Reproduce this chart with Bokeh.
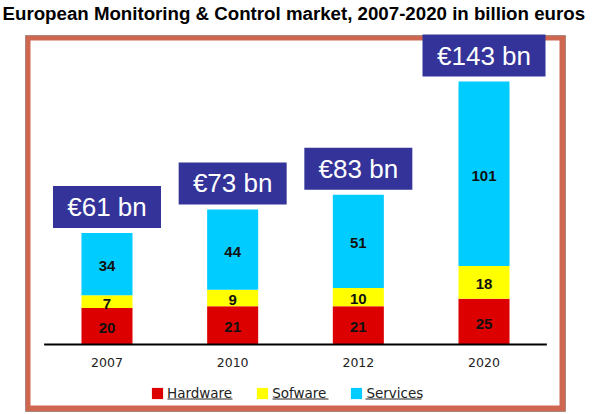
from bokeh.plotting import figure
from bokeh.models import ColumnDataSource, FactorRange, Range1d, BoxAnnotation, Label
from bokeh.core.properties import value
from bokeh.embed import file_html
from bokeh.resources import INLINE

# ---- data ----
years = ["2007", "2010", "2012", "2020"]
hardware = [20, 21, 21, 25]
software = [7, 9, 10, 18]
services = [34, 44, 51, 101]
totals = [61, 73, 83, 143]
series_names = ["Hardware", "Sofware", "Services"]
title_text = "European Monitoring & Control market, 2007-2020 in billion euros"

# ---- styles ----
colors = ["#dd0000", "#ffff00", "#00ccff"]
BOX_COLOR = "#333399"
FRAME_COLOR = "#cf6650"
PX_PER_UNIT = 1.826
PX_PER_FACTOR = 125.67
BOX_H = 42
BOX_GAP = (BOX_H / 2 + 5) / PX_PER_UNIT

W, H = 594, 414
RIGHT_BORDER = 4

bottoms_sw = [h for h in hardware]
bottoms_sv = [h + s for h, s in zip(hardware, software)]
tops = [h + s + v for h, s, v in zip(hardware, software, services)]

src = ColumnDataSource(dict(
    year=years,
    hw=hardware, sw=software, sv=services,
    hw_mid=[h / 2 for h in hardware],
    sw_mid=[b + s / 2 for b, s in zip(bottoms_sw, software)],
    sv_mid=[b + s / 2 for b, s in zip(bottoms_sv, services)],
    hw_txt=[str(v) for v in hardware],
    sw_txt=[str(v) for v in software],
    sv_txt=[str(v) for v in services],
    box_y=[t + BOX_GAP for t in tops],
    box_txt=["€%d bn" % t for t in totals],
    box_w=[15 * len("€%d bn" % t) + 18 for t in totals],
))

frame_w = W - RIGHT_BORDER
units_span = frame_w / PX_PER_FACTOR
x_range = FactorRange(factors=years, range_padding=(units_span - len(years)) / 2,
                      range_padding_units="absolute")
y0 = -70 / PX_PER_UNIT
y_range = Range1d(y0, y0 + H / PX_PER_UNIT)

p = figure(width=W, height=H, x_range=x_range, y_range=y_range,
           output_backend="svg", toolbar_location=None,
           x_axis_location=None, y_axis_location=None,
           min_border_left=0, min_border_right=RIGHT_BORDER,
           min_border_top=0, min_border_bottom=0)
p.grid.visible = False
p.outline_line_color = None
p.background_fill_color = "white"
p.border_fill_color = "white"


def canvas_box(l, r, t, b, **kw):
    return BoxAnnotation(left=l, right=r, top=t, bottom=b,
                         left_units="canvas", right_units="canvas",
                         top_units="canvas", bottom_units="canvas", **kw)


# frame decoration
p.add_layout(canvas_box(25, 565, 35, 411, fill_color=FRAME_COLOR, fill_alpha=1,
                        line_color="#222222", line_width=1, level="underlay"))
p.add_layout(canvas_box(30, 559, 40, 405, fill_color="white", fill_alpha=1,
                        line_color=None, level="underlay"))

# stacked bars
p.vbar_stack(["hw", "sw", "sv"], x="year", width=0.406, color=colors,
             line_color=None, source=src, legend_label=series_names)

# baseline
p.segment(x0=[0], y0=[0], x1=[len(years)], y1=[0], line_color="black", line_width=2)

# segment labels
for col, ycol in [("hw_txt", "hw_mid"), ("sw_txt", "sw_mid"), ("sv_txt", "sv_mid")]:
    p.text(x="year", y=ycol, text=col, source=src, text_align="center",
           text_baseline="middle", text_font=value("Liberation Sans"),
           text_font_style="bold", text_font_size="15px", text_color="#111111",
           y_offset=2)

# year labels
p.text(x="year", y=0, text="year", source=src, text_align="center",
       text_baseline="middle", text_font=value("DejaVu Sans"),
       text_font_size="12.5px", text_color="#222222", y_offset=18)

# total boxes
p.rect(x="year", y="box_y", width="box_w", height=BOX_H,
       width_units="screen", height_units="screen",
       fill_color=BOX_COLOR, line_color=None, source=src)
p.text(x="year", y="box_y", text="box_txt", source=src, text_align="center",
       text_baseline="middle", text_font=value("Liberation Sans"),
       text_font_size="26px", text_color="white")

# title
p.add_layout(Label(x=2, y=2, x_units="canvas", y_units="canvas", text=title_text,
                   text_baseline="top", text_font="Liberation Sans",
                   text_font_style="bold", text_font_size="18.7px",
                   text_color="black"))

# legend
lg = p.legend[0]
lg.location = (150, 13)
lg.orientation = "horizontal"
lg.label_text_font = "DejaVu Sans"
lg.label_text_font_size = "13.5px"
lg.label_text_color = "#222222"
lg.glyph_width = 14
lg.glyph_height = 14
lg.label_height = 14
lg.label_standoff = 3
lg.spacing = 23
lg.padding = 0
lg.margin = 0
lg.border_line_color = None
lg.background_fill_alpha = 0

# underlines for legend labels
for l, r in [(167, 232), (272, 328), (365, 421)]:
    p.add_layout(canvas_box(l, r, 398, 399, fill_color="#222222", fill_alpha=1,
                            line_color=None))

open("out.html", "w").write(file_html(p, INLINE))
